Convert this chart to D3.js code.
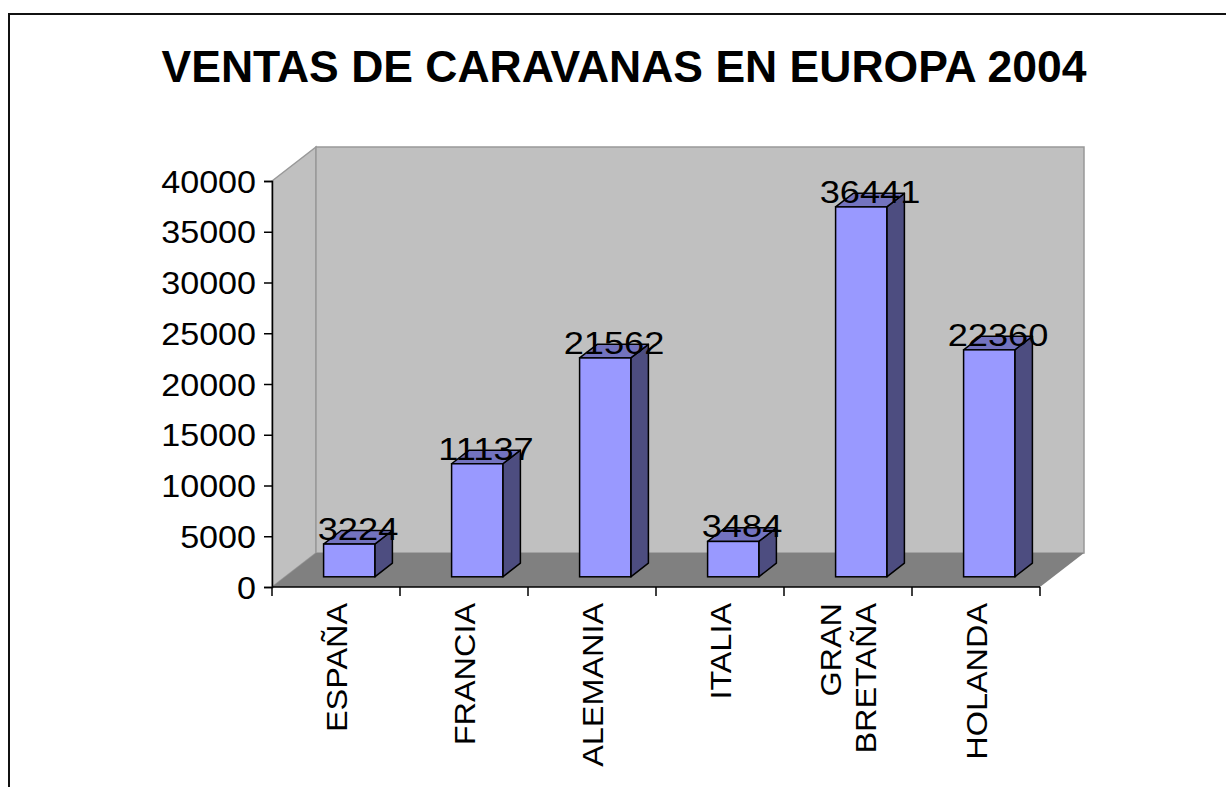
<!DOCTYPE html>
<html>
<head>
<meta charset="utf-8">
<script src="https://d3js.org/d3.v7.min.js"></script>
<style>
	html, body { margin: 0; padding: 0; background: #fff; }
	svg { display: block; }
	text { font-family: Arial, "Liberation Sans", sans-serif; fill: #000; }
</style>
</head>
<body>
<div id="chart"></div>
<script>
const categories = ['ESPAÑA', 'FRANCIA', 'ALEMANIA', 'ITALIA', 'GRAN BRETAÑA', 'HOLANDA'];
const ventas = [3224, 11137, 21562, 3484, 36441, 22360];
const yTicks = [0, 5000, 10000, 15000, 20000, 25000, 30000, 35000, 40000];
const title = 'VENTAS DE CARAVANAS EN EUROPA 2004';

const width = 1226, height = 787;
const plot = { left: 272, right: 1040, top: 181, bottom: 587 };
const depth = { dx: 44, dy: -34 };   // 3D depth of the floor
const barFront = 0.3, barDepth = 0.4; // fraction of depth

const svg = d3.select('#chart').append('svg')
	.attr('width', width)
	.attr('height', height);

// outer frame (runs off right and bottom)
svg.append('rect')
	.attr('x', 9).attr('y', 14)
	.attr('width', 1300).attr('height', 900)
	.attr('fill', 'none')
	.attr('stroke', '#111')
	.attr('stroke-width', 2);

svg.append('text')
	.attr('x', 624).attr('y', 82)
	.attr('text-anchor', 'middle')
	.style('font-weight', 'bold')
	.style('font-size', '44.5px')
	.text(title);

let x = d3.scaleBand()
	.domain(categories)
	.range([plot.left, plot.right])
	.padding(0);

let y = d3.scaleLinear()
	.domain([0, 40000])
	.range([plot.bottom, plot.top]);

const dx = depth.dx, dy = depth.dy;
const pts = (arr) => arr.map(p => p.join(',')).join(' ');

// walls
svg.append('polygon')
	.attr('points', pts([[plot.left, y(40000)], [plot.left + dx, y(40000) + dy], [plot.left + dx, y(0) + dy], [plot.left, y(0)]]))
	.attr('fill', '#c0c0c0')
	.attr('stroke', '#999')
	.attr('stroke-width', 1.5);

svg.append('rect')
	.attr('x', plot.left + dx).attr('y', y(40000) + dy)
	.attr('width', plot.right - plot.left)
	.attr('height', y(0) - y(40000))
	.attr('fill', '#c0c0c0')
	.attr('stroke', '#999')
	.attr('stroke-width', 1.5);

// floor
svg.append('polygon')
	.attr('points', pts([[plot.left, y(0)], [plot.left + dx, y(0) + dy], [plot.right + dx, y(0) + dy], [plot.right, y(0)]]))
	.attr('fill', '#808080');

// bars
const bw = x.bandwidth() * 0.4;
const fx = dx * barFront, fy = dy * barFront;
const bdx = dx * barDepth, bdy = dy * barDepth;

const bars = svg.selectAll('.bar')
	.data(categories.map((c, i) => ({ cat: c, value: ventas[i] })))
	.enter()
	.append('g')
	.attr('class', 'bar');

bars.each(function(d) {
	let g = d3.select(this);
	let x0 = x(d.cat) + (x.bandwidth() - bw) / 2 + fx;
	let x1 = x0 + bw;
	let yt = y(d.value) + fy;
	let yb = y(0) + fy;

	g.append('polygon')
		.attr('points', pts([[x1, yt], [x1 + bdx, yt + bdy], [x1 + bdx, yb + bdy], [x1, yb]]))
		.attr('fill', '#4d4d80')
		.attr('stroke', '#000')
		.attr('stroke-width', 1.5)
		.attr('stroke-linejoin', 'round');

	g.append('polygon')
		.attr('points', pts([[x0, yt], [x0 + bdx, yt + bdy], [x1 + bdx, yt + bdy], [x1, yt]]))
		.attr('fill', '#7373bf')
		.attr('stroke', '#000')
		.attr('stroke-width', 1.5)
		.attr('stroke-linejoin', 'round');

	g.append('rect')
		.attr('x', x0).attr('y', yt)
		.attr('width', bw).attr('height', yb - yt)
		.attr('fill', '#9999ff')
		.attr('stroke', '#000')
		.attr('stroke-width', 1.5);

	g.append('text')
		.attr('transform', `translate(${x0 + bw / 2 + bdx / 2},${yt - 4}) scale(1.15,1)`)
		.attr('text-anchor', 'middle')
		.style('font-size', '31.5px')
		.text(d.value);
});

// y axis
let yAxis = d3.axisLeft(y)
	.tickValues(yTicks)
	.tickSize(8)
	.tickPadding(8)
	.tickFormat(d3.format('d'));

let yg = svg.append('g')
	.attr('transform', `translate(${plot.left},0)`)
	.call(yAxis);

yg.select('.domain').attr('stroke', '#000').attr('stroke-width', 1.5);
yg.selectAll('.tick line').attr('stroke', '#000').attr('stroke-width', 1.5);
yg.selectAll('.tick text')
	.attr('font-family', null)
	.attr('font-size', null)
	.style('font-size', '31px')
	.attr('dy', '0.36em')
	.attr('transform', 'scale(1.1,1)')
	.attr('x', -16 / 1.1);

// x axis line and ticks
svg.append('line')
	.attr('x1', plot.left).attr('x2', plot.right)
	.attr('y1', y(0)).attr('y2', y(0))
	.attr('stroke', '#000').attr('stroke-width', 1.5);

let xTickPos = categories.map(c => x(c)).concat([x.range()[1]]);
svg.selectAll('.xtick')
	.data(xTickPos)
	.enter()
	.append('line')
	.attr('class', 'xtick')
	.attr('x1', d => d).attr('x2', d => d)
	.attr('y1', y(0)).attr('y2', y(0) + 9)
	.attr('stroke', '#000').attr('stroke-width', 1.5);

// category labels, rotated
svg.selectAll('.xlabel')
	.data(categories)
	.enter()
	.append('text')
	.attr('class', 'xlabel')
	.attr('transform', d => `translate(${x(d) + x.bandwidth() / 2},${y(0) + 16}) rotate(-90) scale(1.08,1)`)
	.attr('text-anchor', 'end')
	.style('font-size', '30px')
	.each(function(d) {
		let words = d.split(' ');
		let t = d3.select(this);
		let lh = 36;
		words.forEach((w, i) => {
			t.append('tspan')
				.attr('x', 0)
				.attr('y', (i - (words.length - 1) / 2) * lh + 10.5)
				.text(w);
		});
	});
</script>
</body>
</html>
